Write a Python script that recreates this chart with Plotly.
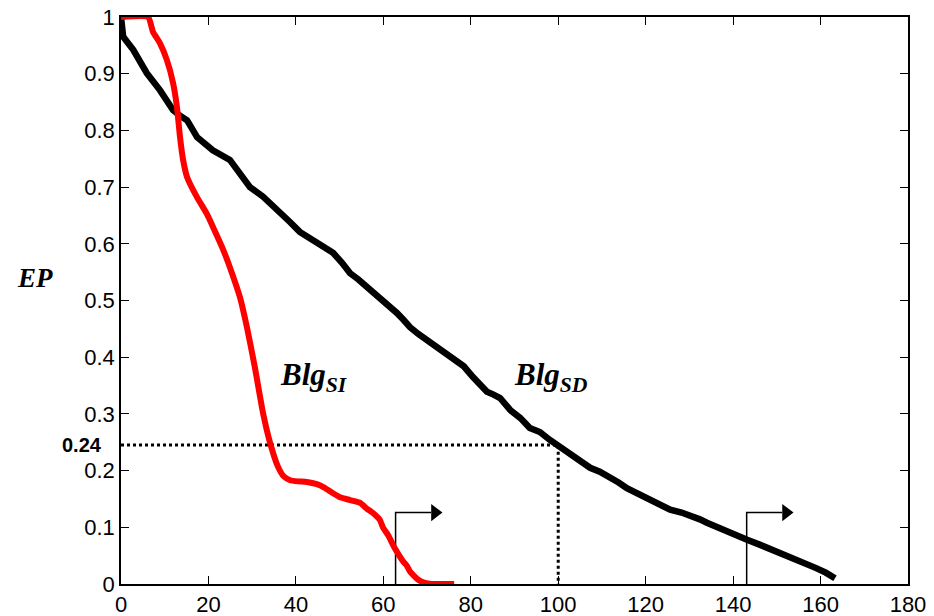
import plotly.graph_objects as go

# BlgSD (black) curve
sd_x = [0, 0.5, 2.8, 5.9, 8.9, 11.9, 13.5, 15.1, 17.4, 19, 21, 24.9, 27.2, 29.5, 32.5, 34.1, 36.4, 38.7, 40.9, 42.8, 44.8, 46.7, 48.5, 50.5, 52.4, 54.3, 56.3, 58.1, 59.9, 61.5, 63.1, 64.6, 66.1, 68, 70, 71.8, 73.6, 75.2, 76.9, 78.4, 80.5, 82, 83.7, 85.2, 86.7, 89, 91.3, 93.5, 95.8, 98.1, 100.4, 102.3, 104.3, 107.3, 109.5, 111.8, 113.8, 115.7, 118.7, 120.2, 121.7, 123.6, 125.6, 128.2, 130.8, 132.4, 134, 137.7, 140.5, 143.2, 146.2, 149.1, 151.4, 153.7, 156.3, 159, 161.2, 163.3]
sd_y = [1, 0.965, 0.942, 0.901, 0.871, 0.836, 0.826, 0.818, 0.788, 0.777, 0.765, 0.748, 0.725, 0.7, 0.683, 0.672, 0.654, 0.638, 0.621, 0.612, 0.601, 0.594, 0.584, 0.567, 0.548, 0.537, 0.524, 0.512, 0.501, 0.488, 0.478, 0.466, 0.453, 0.441, 0.43, 0.42, 0.413, 0.403, 0.395, 0.384, 0.365, 0.352, 0.339, 0.334, 0.328, 0.307, 0.293, 0.275, 0.268, 0.254, 0.242, 0.232, 0.219, 0.205, 0.198, 0.189, 0.179, 0.169, 0.157, 0.152, 0.145, 0.139, 0.131, 0.126, 0.12, 0.114, 0.108, 0.095, 0.087, 0.078, 0.069, 0.06, 0.054, 0.046, 0.038, 0.028, 0.02, 0.01]

# BlgSI (red) curve
si_x = [0, 6.2, 7.3, 8.9, 10.5, 11.9, 12.8, 13.5, 14.2, 15.1, 17.4, 19.7, 21.9, 23.4, 25.3, 27.2, 28.8, 30.6, 32.5, 34.1, 35.9, 37.2, 38.7, 40.5, 42.5, 44.8, 46.5, 48.5, 50.1, 52.4, 54.7, 56.2, 57.5, 59.2, 59.9, 61.1, 62.7, 64.5, 65.4, 66.1, 67.9, 69.5, 71, 76.2]
si_y = [1, 1, 0.974, 0.954, 0.924, 0.884, 0.841, 0.788, 0.748, 0.718, 0.682, 0.652, 0.615, 0.589, 0.55, 0.506, 0.453, 0.383, 0.301, 0.249, 0.207, 0.19, 0.183, 0.181, 0.18, 0.176, 0.17, 0.16, 0.153, 0.148, 0.143, 0.133, 0.126, 0.113, 0.1, 0.086, 0.062, 0.04, 0.032, 0.022, 0.008, 0.002, 0, 0]

# reference marker
ref_x = 100
ref_y = 0.245
ref_label = "0.24"

# step arrows (x start, y top, x tip)
arrow_x = [62.8, 143.1]
arrow_top = 0.126
arrow_len = 10.6

x_ticks = [0, 20, 40, 60, 80, 100, 120, 140, 160, 180]
y_ticks = [0, 0.1, 0.2, 0.3, 0.4, 0.5, 0.6, 0.7, 0.8, 0.9, 1]
y_ticklabels = ["0", "0.1", "0.2", "0.3", "0.4", "0.5", "0.6", "0.7", "0.8", "0.9", "1"]

fig = go.Figure()

# dotted reference lines
fig.add_trace(go.Scatter(x=[0, ref_x, ref_x], y=[ref_y, ref_y, 0], mode="lines",
                         line=dict(color="black", width=3, dash="dot"), showlegend=False,
                         hoverinfo="skip"))

# arrows
for ax0 in arrow_x:
    fig.add_trace(go.Scatter(x=[ax0, ax0, ax0 + arrow_len - 2.5], y=[0, arrow_top, arrow_top], mode="lines",
                             line=dict(color="black", width=1.5), showlegend=False, hoverinfo="skip"))
    fig.add_trace(go.Scatter(x=[ax0 + arrow_len - 1.6], y=[arrow_top], mode="markers",
                             marker=dict(symbol="triangle-right", size=15, color="black"),
                             showlegend=False, hoverinfo="skip"))

fig.add_trace(go.Scatter(x=sd_x, y=sd_y, mode="lines", line=dict(color="black", width=6.5),
                         showlegend=False))
fig.add_trace(go.Scatter(x=si_x, y=si_y, mode="lines",
                         line=dict(color="#ff0000", width=6, shape="spline", smoothing=0.5),
                         showlegend=False))

axis_common = dict(showline=True, linecolor="black", linewidth=1.5, mirror="ticks",
                   ticks="inside", ticklen=8, tickcolor="black", tickwidth=1,
                   showgrid=False, zeroline=False, automargin=False,
                   ticklabeloverflow="allow",
                   tickfont=dict(family="Liberation Sans, Arial", size=22, color="black"))

fig.update_xaxes(range=[0, 180], tickvals=x_ticks, **axis_common)
fig.update_yaxes(range=[0, 1], tickvals=y_ticks, ticktext=y_ticklabels, **axis_common)

serif = "Liberation Serif, Times New Roman"
fig.add_annotation(x=-0.109, y=0.54, xref="paper", yref="paper", text="<b><i>EP</i></b>",
                   showarrow=False, font=dict(family=serif, size=27, color="black"),
                   xanchor="center", yanchor="middle")
fig.add_annotation(x=-0.022, y=ref_y, xref="paper", yref="y", text="<b>" + ref_label + "</b>",
                   showarrow=False, font=dict(family="Liberation Sans, Arial", size=20, color="black"),
                   xanchor="right", yanchor="middle")
fig.add_annotation(x=44.1, y=0.365, text="<b><i>Blg<sub>SI</sub></i></b>", showarrow=False,
                   font=dict(family=serif, size=31, color="black"))
fig.add_annotation(x=98.4, y=0.365, text="<b><i>Blg<sub>SD</sub></i></b>", showarrow=False,
                   font=dict(family=serif, size=31, color="black"))

# page body adds an 8px offset, so the figure is sized to fit inside the window
fig.update_layout(width=926, height=608, margin=dict(l=113, r=26, t=9, b=32),
                  plot_bgcolor="white", paper_bgcolor="white")

fig.write_html("out.html")
